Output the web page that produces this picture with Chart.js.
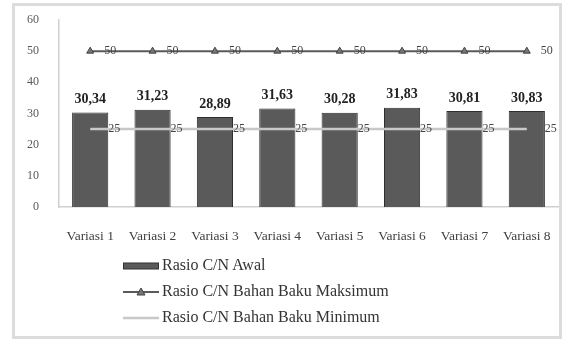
<!DOCTYPE html>
<html lang="id">
<head>
    <meta charset="UTF-8">
    <title>Rasio C/N</title>
    <script src="https://cdn.jsdelivr.net/npm/chart.js"></script>
    <style>
        body {
            margin: 0;
            background: #fff;
            font-family: "Liberation Serif", "Times New Roman", serif;
        }
        .wrap {
            position: relative;
            width: 567px;
            height: 345px;
        }
        .frame {
            position: absolute;
            left: 12px;
            top: 3px;
            width: 550px;
            height: 336px;
            border: 3px solid #dcdcdc;
            box-sizing: border-box;
        }
        canvas {
            position: absolute;
            left: 0;
            top: 0;
        }
        .legend {
            position: absolute;
            left: 123px;
            top: 256px;
            font-size: 16px;
            color: #333;
        }
        .legend div {
            height: 26px;
            display: flex;
            align-items: flex-start;
            line-height: 18px;
        }
        .legend .mark {
            width: 36px;
            height: 10px;
            margin-right: 3px;
            position: relative;
            top: 5px;
        }
    </style>
</head>
<body>
    <div class="wrap">
        <div class="frame"></div>
        <canvas id="cnChart" width="567" height="345"></canvas>
        <div class="legend">
            <div>
                <svg class="mark" width="36" height="10"><rect x="0.5" y="2" width="35" height="6" fill="#5a5a5a" stroke="#333" stroke-width="1"/></svg>
                <span>Rasio C/N Awal</span>
            </div>
            <div>
                <svg class="mark" width="36" height="10"><line x1="0" y1="5" x2="36" y2="5" stroke="#5a5a5a" stroke-width="2"/><polygon points="18,1 22,8 14,8" fill="#777" stroke="#444"/></svg>
                <span>Rasio C/N Bahan Baku Maksimum</span>
            </div>
            <div>
                <svg class="mark" width="36" height="10"><line x1="0" y1="5" x2="36" y2="5" stroke="#c8c8c8" stroke-width="2.5"/></svg>
                <span>Rasio C/N Bahan Baku Minimum</span>
            </div>
        </div>
    </div>

    <script>
        const categories = ['Variasi 1', 'Variasi 2', 'Variasi 3', 'Variasi 4',
                            'Variasi 5', 'Variasi 6', 'Variasi 7', 'Variasi 8'];
        const rasioAwal = [30.34, 31.23, 28.89, 31.63, 30.28, 31.83, 30.81, 30.83];
        const bakuMaksimum = [50, 50, 50, 50, 50, 50, 50, 50];
        const bakuMinimum = [25, 25, 25, 25, 25, 25, 25, 25];
        const yTicks = [0, 10, 20, 30, 40, 50, 60];

        const serif = '"Liberation Serif", "Times New Roman", serif';

        // value labels: above the bars, right of the line points
        const valueLabels = {
            id: 'valueLabels',
            afterDatasetsDraw(chart) {
                const ctx = chart.ctx;
                ctx.save();
                chart.data.datasets.forEach((ds, i) => {
                    const meta = chart.getDatasetMeta(i);
                    meta.data.forEach((el, j) => {
                        const v = ds.data[j];
                        if (ds.type === 'bar') {
                            ctx.font = 'bold 14px ' + serif;
                            ctx.fillStyle = '#222';
                            ctx.textAlign = 'center';
                            ctx.textBaseline = 'bottom';
                            ctx.fillText(v.toFixed(2).replace('.', ','), el.x, el.y - 6);
                        } else {
                            ctx.font = '12px ' + serif;
                            ctx.fillStyle = '#444';
                            ctx.textAlign = 'left';
                            ctx.textBaseline = 'middle';
                            ctx.fillText(String(v), el.x + ds.labelGap, el.y);
                        }
                    });
                });
                ctx.restore();
            }
        };

        new Chart(document.getElementById('cnChart'), {
            type: 'bar',
            data: {
                labels: categories,
                datasets: [
                    {
                        type: 'line',
                        label: 'Rasio C/N Bahan Baku Minimum',
                        data: bakuMinimum,
                        borderColor: '#c8c8c8',
                        borderWidth: 2.5,
                        pointRadius: 0,
                        labelGap: 18
                    },
                    {
                        type: 'line',
                        label: 'Rasio C/N Bahan Baku Maksimum',
                        data: bakuMaksimum,
                        borderColor: '#5a5a5a',
                        borderWidth: 2,
                        pointStyle: 'triangle',
                        pointRadius: 4,
                        pointBackgroundColor: '#777',
                        pointBorderColor: '#444',
                        pointBorderWidth: 1,
                        labelGap: 14
                    },
                    {
                        type: 'bar',
                        label: 'Rasio C/N Awal',
                        data: rasioAwal,
                        backgroundColor: '#5a5a5a',
                        borderColor: '#2e2e2e',
                        borderWidth: 1,
                        barPercentage: 0.58,
                        categoryPercentage: 1
                    }
                ]
            },
            options: {
                responsive: false,
                animation: false,
                layout: { padding: { left: 0, top: 20, right: 9, bottom: 98 } },
                plugins: {
                    legend: { display: false },
                    tooltip: { enabled: false }
                },
                scales: {
                    x: {
                        grid: { display: false },
                        border: { display: true, color: '#d0d0d0', width: 1.5 },
                        ticks: {
                            padding: 13,
                            color: '#404040',
                            font: { family: serif, size: 13.5 }
                        },
                        afterFit(scale) { scale.height = 40; }
                    },
                    y: {
                        min: 0,
                        max: 60,
                        grid: { display: false, drawTicks: false },
                        border: { display: true, color: '#d0d0d0', width: 1.5 },
                        afterBuildTicks(scale) { scale.ticks = yTicks.map(v => ({ value: v })); },
                        ticks: {
                            padding: 20,
                            color: '#595959',
                            font: { family: serif, size: 12 }
                        },
                        // tick padding would otherwise push the plot top down
                        afterFit(scale) {
                            scale.width = 59;
                            scale.paddingTop = 0;
                        }
                    }
                }
            },
            plugins: [valueLabels]
        });
    </script>
</body>
</html>
